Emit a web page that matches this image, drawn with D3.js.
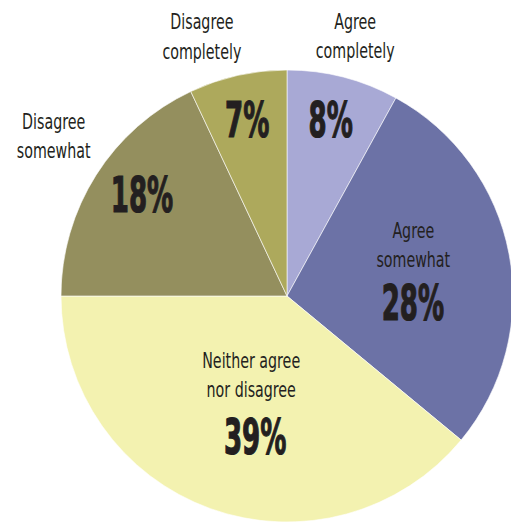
<!DOCTYPE html>
<html>
<head>
<meta charset="utf-8">
<script src="https://cdn.jsdelivr.net/npm/d3@7.9.0/dist/d3.min.js"></script>
<style>
  html, body { margin: 0; padding: 0; background: #fff; }
  svg { display: block; }
  .name { font-family: "DejaVu Sans Condensed", sans-serif; font-size: 22px; fill: #231f20; }
  .pct { font-family: "DejaVu Sans Condensed", sans-serif; font-weight: bold; font-size: 50px; fill: #231f20; stroke: #231f20; stroke-width: 1.2; }
</style>
</head>
<body>
<svg id="chart" width="511" height="523"></svg>
<script>
// data, clockwise from 12 o'clock
const categories = [
  ["Agree", "completely"],
  ["Agree", "somewhat"],
  ["Neither agree", "nor disagree"],
  ["Disagree", "somewhat"],
  ["Disagree", "completely"]
];
const values = [8, 28, 39, 18, 7];
const sliceColors = ["#a8a9d5", "#6c72a6", "#f3f2b0", "#948f5e", "#ada95c"];

// label placement: [radius, angle in degrees] from the centre
const namePlacement = [[276, 14.3], [139, 65.3], [80, 206.6], [287, 305.6], [280, -17.7]];
const pctPlacement = [[182, 13.9], [126, 92.7], [144, 192.8], [177, 305], [181, -12.7]];

const cx = 287, cy = 296, radius = 226;
const lineGap = 29.5;
const nameScaleX = 0.72, pctScaleX = 0.58;

const svg = d3.select('#chart');
const g = svg.append('g').attr('transform', `translate(${cx},${cy})`);

const color = d3.scaleOrdinal().domain(d3.range(values.length)).range(sliceColors);
const pie = d3.pie().sort(null).value(d => d);
const arc = d3.arc().innerRadius(0).outerRadius(radius);
const arcs = pie(values);

g.selectAll('path')
  .data(arcs)
  .join('path')
  .attr('d', arc)
  .attr('fill', (d, i) => color(i))
  .attr('stroke', '#fff')
  .attr('stroke-width', 0.6);

function polar(r, deg) {
  const a = deg * Math.PI / 180;
  return [r * Math.sin(a), -r * Math.cos(a)];
}

// category names
categories.forEach((lines, i) => {
  const [x, y] = polar(namePlacement[i][0], namePlacement[i][1]);
  const t = g.append('text')
    .attr('class', 'name')
    .attr('text-anchor', 'middle')
    .attr('transform', `translate(${x},${y}) scale(${nameScaleX},1)`);
  lines.forEach((line, j) => {
    t.append('tspan').attr('x', 0).attr('y', j * lineGap).text(line);
  });
});

// percentages (vertically centred on the placement point)
arcs.forEach((d, i) => {
  const [x, y] = polar(pctPlacement[i][0], pctPlacement[i][1]);
  g.append('text')
    .attr('class', 'pct')
    .attr('text-anchor', 'middle')
    .attr('transform', `translate(${x},${y + 18}) scale(${pctScaleX},1)`)
    .text(`${d.data}%`);
});
</script>
</body>
</html>
